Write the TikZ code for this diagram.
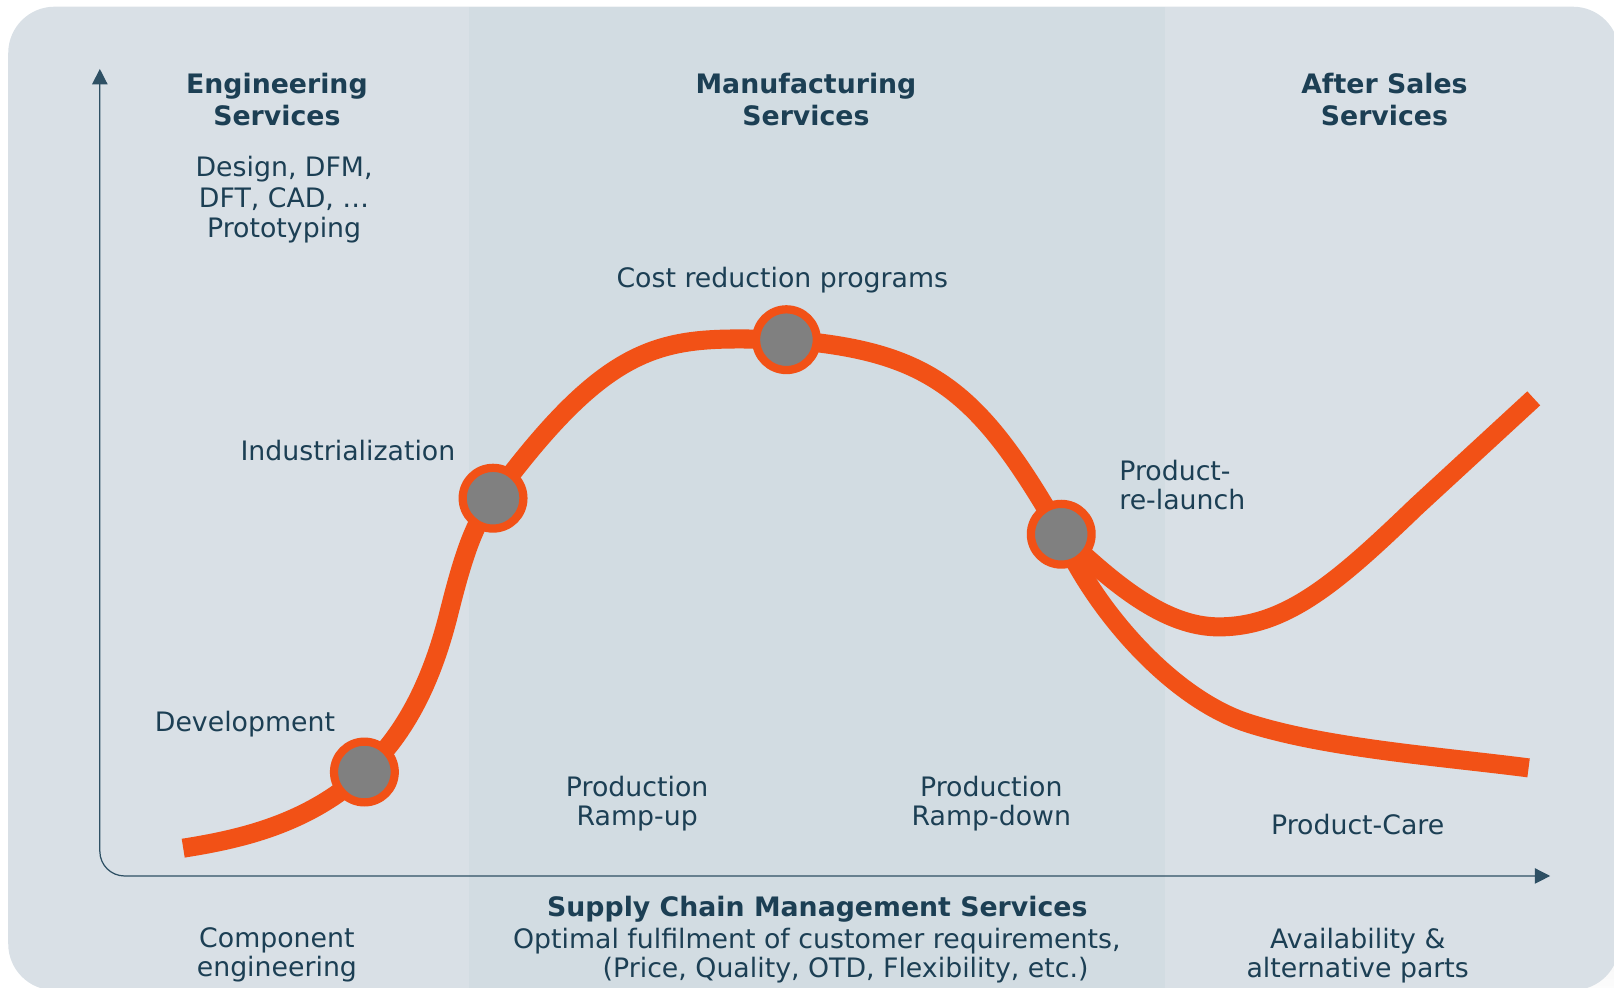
\documentclass[tikz,border=0pt]{standalone}
\usepackage{fontspec}
\setmainfont{DejaVu Sans}
\usetikzlibrary{arrows.meta}
\definecolor{bgA}{HTML}{D9E0E6}
\definecolor{bgB}{HTML}{D2DCE2}
\definecolor{shade}{HTML}{9AAEBF}
\definecolor{orng}{HTML}{F25116}
\definecolor{dot}{HTML}{808080}
\definecolor{ink}{HTML}{1C3F54}
\definecolor{axisc}{HTML}{2E5064}
\begin{document}
\begin{tikzpicture}[x=0.5pt,y=-0.5pt,
  txt/.style={text=ink,font=\fontsize{13}{14}\selectfont,align=center,inner sep=0pt},
  txtB/.style={text=ink,font=\fontsize{13}{14.75}\selectfont,align=center,inner sep=0pt},
  head/.style={text=ink,font=\fontsize{13}{15.5}\selectfont\bfseries,align=center,inner sep=0pt},
  milestone/.style={circle,draw=orng,line width=4pt,fill=dot,minimum size=29.5pt,inner sep=0pt},
  curve/.style={draw=orng,line width=9.25pt,line join=round},
  axisline/.style={draw=axisc,line width=0.6pt,{Triangle[length=7.5pt,width=7.5pt]}-{Triangle[length=7.5pt,width=7.5pt]},rounded corners=12pt}]
\useasboundingbox (0,0) rectangle (1568,959);
\clip (0,0) rectangle (1568,959);
% background
\fill[shade, rounded corners=22.5pt] (100,100) rectangle (1592,982);
\fill[bgA, rounded corners=22.5pt] (8,6.5) rectangle (1573,962);
\fill[bgB] (456,6.5) rectangle (1132,962);
% axes
\coordinate (ytip) at (97,67);
\coordinate (origin) at (97,851);
\coordinate (xtip) at (1506,851);
\draw[axisline] (xtip) -- (origin) -- (ytip);
% milestone positions
\coordinate (p1) at (354,750);
\coordinate (p2) at (479,484);
\coordinate (p3) at (764,330);
\coordinate (p4) at (1031,519);
\coordinate (start) at (178,824);
\coordinate (upEnd) at (1490,387);
\coordinate (lowEnd) at (1485,746);
% curves
\draw[curve] (start) .. controls (235,815) and (300,800) .. (p1)
  .. controls (395,712) and (420,660) .. (436,596)
  .. controls (450,540) and (460,510) .. (p2)
  .. controls (600,320) and (650,328) .. (p3)
  .. controls (904,341) and (951,379) .. (p4);
\draw[curve] (p4) .. controls (1080,565) and (1130,609) .. (1184,609)
  .. controls (1250,609) and (1300,565) .. (1376,492) -- (upEnd);
\draw[curve] (p4) .. controls (1065,595) and (1140,680) .. (1214,703)
  .. controls (1290,727) and (1400,735) .. (lowEnd);
% milestones
\node[milestone] (m1) at (p1) {};
\node[milestone] (m2) at (p2) {};
\node[milestone] (m3) at (p3) {};
\node[milestone] (m4) at (p4) {};
% texts
\node[head] (eng) at (269,96.5) {Engineering\\Services};
\node[head] (mfg) at (783,96.5) {Manufacturing\\Services};
\node[head] (aft) at (1345,96.5) {After Sales\\Services};
\node[txtB] (des) at (276,194) {Design, DFM,\\DFT, CAD, \dots\\Prototyping};
\node[txt] (cost) at (760,272) {Cost reduction programs};
\node[txt] (ind) at (338,438) {Industrialization};
\node[txt] (dev) at (238,703) {Development};
\node[txt,anchor=west,align=left] (rel) at (1087,471) {Product-\\re-launch};
\node[txt] (rup) at (619,781) {Production\\Ramp-up};
\node[txt] (rdn) at (963,781) {Production\\Ramp-down};
\node[txt] (care) at (1319,801) {Product-Care};
\node[head] (scm) at (794,883) {Supply Chain Management Services};
\node[txt] (opt1) at (793.5,914) {Optimal fulfilment of customer requirements,};
\node[txt] (opt2) at (821.5,942) {(Price, Quality, OTD, Flexibility, etc.)};
\node[txt] (comp) at (269,928) {Component\\engineering};
\node[txt] (avail) at (1319,928) {Availability \&\\alternative parts};
\end{tikzpicture}
\end{document}
